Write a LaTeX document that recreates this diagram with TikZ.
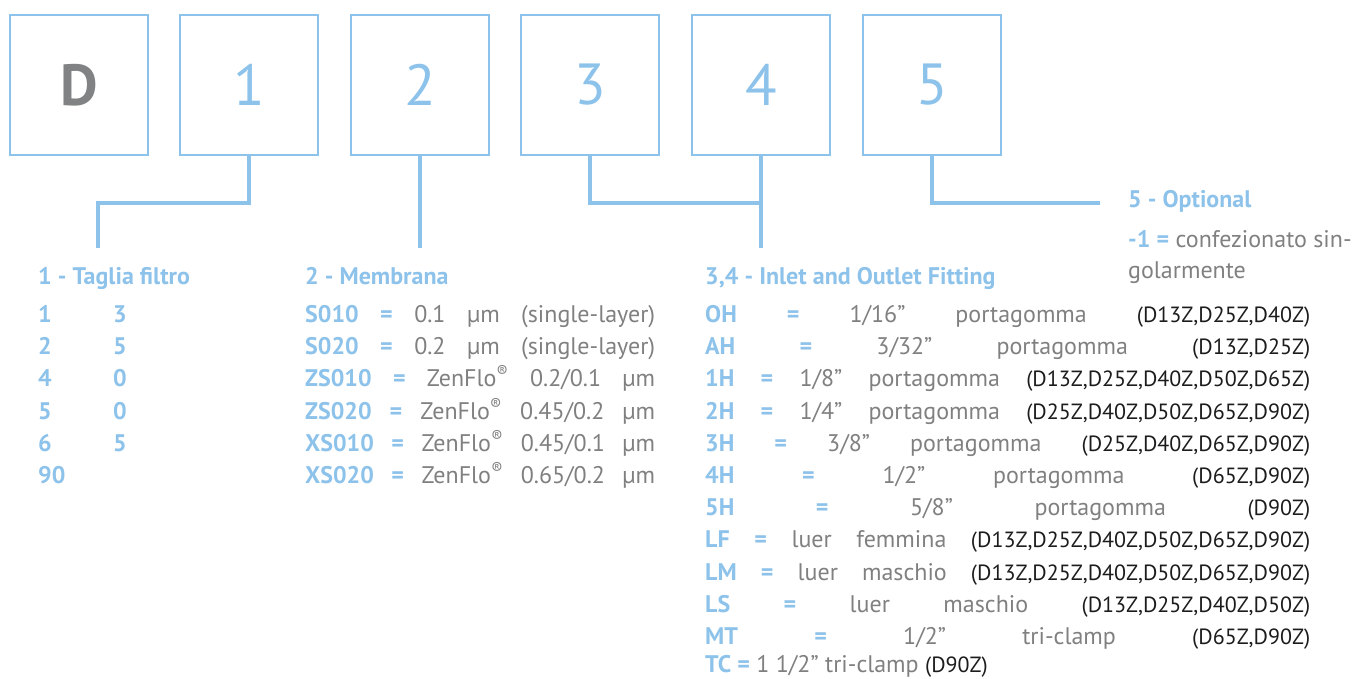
\documentclass[tikz,border=0pt]{standalone}
\usepackage{fontspec}
\setmainfont{PT Sans}
\definecolor{lblue}{RGB}{141,194,234}
\definecolor{txtgray}{RGB}{128,128,128}
\definecolor{dgray}{RGB}{128,130,131}
\definecolor{codeblk}{RGB}{28,28,28}
\newcommand{\bl}[1]{{\bfseries\color{lblue}#1}}
\newcommand{\cd}[1]{{\fontsize{22}{26}\selectfont\color{codeblk}#1}}
\newcommand{\memrow}[2]{\makebox[350pt][s]{\bl{#1} \bl{=} #2}}
\newcommand{\fitrow}[3]{\makebox[605pt][s]{\bl{#1} \bl{=} #2 \cd{#3}}}
\tikzset{
  codebox/.style={draw=lblue, line width=2.5pt, minimum width=138pt, minimum height=140pt,
    inner sep=0pt, text=lblue, font=\fontsize{58}{58}\selectfont},
  link/.style={draw=lblue, line width=4pt},
  head/.style={anchor=base west, inner sep=0pt, text=lblue, font=\fontsize{24}{28}\selectfont\bfseries},
  row/.style={anchor=base west, inner sep=0pt, text=txtgray, font=\fontsize{24}{28}\selectfont},
  num/.style={row, text=lblue, font=\fontsize{24}{28}\selectfont\bfseries}
}
\begin{document}
\begin{tikzpicture}[x=1pt,y=-1pt]
  \useasboundingbox (0,0) rectangle (1370,678);

  % code boxes
  \node[codebox, text=dgray, font=\fontsize{58}{58}\selectfont\bfseries] (bD) at (79,85) {D};
  \node[codebox] (b1) at (249,85) {1};
  \node[codebox] (b2) at (420,85) {2};
  \node[codebox] (b3) at (590,85) {3};
  \node[codebox] (b4) at (761,85) {4};
  \node[codebox] (b5) at (932,85) {5};

  % connectors
  \coordinate (k1) at (98,203);
  \coordinate (e1) at (98,248);
  \coordinate (e2) at (420,248);
  \coordinate (k34) at (761,203);
  \coordinate (e34) at (761,248);
  \coordinate (e5) at (1100,203);
  \draw[link] (b1.south) |- (k1) -- (e1);
  \draw[link] (b2.south) -- (e2);
  \draw[link] (b3.south) |- (k34);
  \draw[link] (b4.south) -- (e34);
  \draw[link] (b5.south) |- (e5);

  % headings
  \node[head] (h1) at (38,284) {1 - Taglia filtro};
  \node[head] (h2) at (305,284) {2 - Membrana};
  \node[head] (h34) at (705,284) {3,4 - Inlet and Outlet Fitting};
  \node[head] (h5) at (1128,207) {5 - Optional};

  % 5 - optional
  \node[row] (o1) at (1128,247) {\bl{-1 =} confezionato sin-};
  \node[row] (o2) at (1128,278) {golarmente};

  % 1 - taglia filtro
  \node[num] (t1) at (38,322.5) {\makebox[75pt][l]{1}3};
  \node[num] (t2) at (38,354.7) {\makebox[75pt][l]{2}5};
  \node[num] (t3) at (38,386.9) {\makebox[75pt][l]{4}0};
  \node[num] (t4) at (38,419.1) {\makebox[75pt][l]{5}0};
  \node[num] (t5) at (38,451.3) {\makebox[75pt][l]{6}5};
  \node[num] (t6) at (38,483.5) {90};

  % 2 - membrana
  \node[row] (m1) at (305,322.5) {\memrow{S010}{0.1 µm (single-layer)}};
  \node[row] (m2) at (305,354.7) {\memrow{S020}{0.2 µm (single-layer)}};
  \node[row] (m3) at (305,386.9) {\memrow{ZS010}{ZenFlo\textsuperscript{®} 0.2/0.1 µm}};
  \node[row] (m4) at (305,419.1) {\memrow{ZS020}{ZenFlo\textsuperscript{®} 0.45/0.2 µm}};
  \node[row] (m5) at (305,451.3) {\memrow{XS010}{ZenFlo\textsuperscript{®} 0.45/0.1 µm}};
  \node[row] (m6) at (305,483.5) {\memrow{XS020}{ZenFlo\textsuperscript{®} 0.65/0.2 µm}};

  % 3,4 - fittings
  \node[row] (f1) at (705,322.5) {\fitrow{OH}{1/16” portagomma}{(D13Z,D25Z,D40Z)}};
  \node[row] (f2) at (705,354.7) {\fitrow{AH}{3/32” portagomma}{(D13Z,D25Z)}};
  \node[row] (f3) at (705,386.9) {\fitrow{1H}{1/8” portagomma}{(D13Z,D25Z,D40Z,D50Z,D65Z)}};
  \node[row] (f4) at (705,419.1) {\fitrow{2H}{1/4” portagomma}{(D25Z,D40Z,D50Z,D65Z,D90Z)}};
  \node[row] (f5) at (705,451.3) {\fitrow{3H}{3/8” portagomma}{(D25Z,D40Z,D65Z,D90Z)}};
  \node[row] (f6) at (705,483.5) {\fitrow{4H}{1/2” portagomma}{(D65Z,D90Z)}};
  \node[row] (f7) at (705,515.7) {\fitrow{5H}{5/8” portagomma}{(D90Z)}};
  \node[row] (f8) at (705,547.9) {\fitrow{LF}{luer femmina}{(D13Z,D25Z,D40Z,D50Z,D65Z,D90Z)}};
  \node[row] (f9) at (705,580.1) {\fitrow{LM}{luer maschio}{(D13Z,D25Z,D40Z,D50Z,D65Z,D90Z)}};
  \node[row] (f10) at (705,612.3) {\fitrow{LS}{luer maschio}{(D13Z,D25Z,D40Z,D50Z)}};
  \node[row] (f11) at (705,644.5) {\fitrow{MT}{1/2” tri-clamp}{(D65Z,D90Z)}};
  \node[row] (f12) at (705,672.5) {\bl{TC =} 1 1/2” tri-clamp \cd{(D90Z)}};
\end{tikzpicture}
\end{document}
